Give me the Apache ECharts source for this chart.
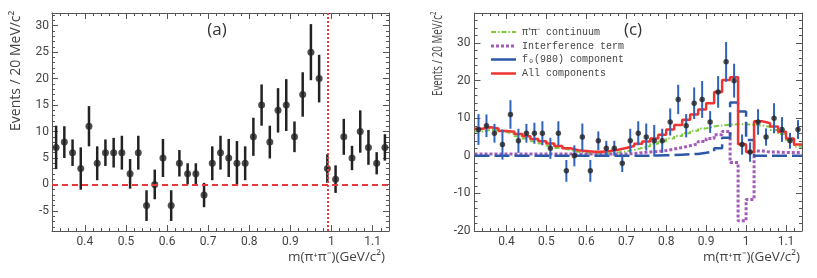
<!DOCTYPE html>
<html><head><meta charset="utf-8">
<script src="https://cdn.jsdelivr.net/npm/echarts@6/dist/echarts.min.js"></script>
<style>html,body{margin:0;padding:0;background:#fff}#c{width:817px;height:278px}</style>
</head><body><div id="c"></div>
<script>
// ---- data ----
const binCenters = [0.33,0.35,0.37,0.39,0.41,0.43,0.45,0.47,0.49,0.51,
  0.53,0.55,0.57,0.59,0.61,0.63,0.65,0.67,0.69,0.71,
  0.73,0.75,0.77,0.79,0.81,0.83,0.85,0.87,0.89,0.91,
  0.93,0.95,0.97,0.99,1.01,1.03,1.05,1.07,1.09,1.11,1.13];
const binEdges = [0.32,0.34,0.36,0.38,0.40,0.42,0.44,0.46,0.48,0.50,
  0.52,0.54,0.56,0.58,0.60,0.62,0.64,0.66,0.68,0.70,
  0.72,0.74,0.76,0.78,0.80,0.82,0.84,0.86,0.88,0.90,
  0.92,0.94,0.96,0.98,1.00,1.02,1.04,1.06,1.08,1.10,1.12,1.14];
const events = [7,8,6,3,11,4,6,6,6,2, 6,-4,0,5,-4,4,2,2,-2,4, 6,5,4,4,9,15,8,14,15,9, 17,25,20,3,1,9,5,10,7,4, 7];
const errors = [4.1,3.0,2.5,4.0,3.8,3.2,2.5,2.8,3.2,2.8, 3.2,2.9,2.8,3.6,2.9,2.5,2.0,2.0,2.3,3.2,
  3.2,3.6,4.2,3.2,3.6,3.9,3.1,4.2,4.9,2.9, 4.2,5.3,4.5,2.7,2.6,3.4,2.3,4.0,3.3,2.1, 2.5];
const continuum = [6.5,6.9,6.8,6.3,5.8,5.2,4.6,3.9,3.3,2.7, 2.1,1.6,1.1,0.8,0.6,0.6,0.7,0.9,1.2,1.6,
  2.1,2.6,3.2,3.9,4.6,5.3,6.0,6.7,7.3,7.8, 8.1,8.3,8.4,8.4,8.3,8.1,7.7,6.9,5.8,4.2, 2.4];
const interference = [0.5,0.5,0.5,0.5,0.5,0.5,0.5,0.5,0.5,0.5, 0.5,0.5,0.5,0.5,0.5,0.5,0.5,0.5,0.5,0.6,
  0.8,1.0,1.2,1.4,1.8,2.2,2.7,3.2,3.8,4.6, 5.6,6.5,-1.8,-17.3,-11.6,1.3,1.0,1.0,0.9,0.9, 0.9];
const f0Component = [0,0,0,0,0,0,0,0,0,0, 0,0,0,0,0,0,0,0,0,0,
  0,0.05,0.1,0.15,0.2,0.3,0.4,0.5,0.8,1.2, 2.0,4.8,14.2,11.8,4.2,0,0,0,0,0, 0];
const allComponents = [7.2,7.6,7.3,6.6,6.4,5.8,5.2,4.5,3.9,3.3, 2.6,2.0,1.5,1.3,1.1,1.1,1.3,1.6,2.1,2.6,
  3.2,3.8,4.6,5.6,7.0,8.2,9.6,11.0,12.3,14.0, 17.0,20.2,20.9,3.1,1.0,9.2,8.7,7.8,6.4,4.6, 3.0];
const xMajorTicks = [0.4,0.5,0.6,0.7,0.8,0.9,1.0,1.1];
const xMinorTicks = [0.32,0.34,0.36,0.38,0.40,0.42,0.44,0.46,0.48,0.50,0.52,0.54,0.56,0.58,0.60,0.62,0.64,0.66,0.68,0.70,
  0.72,0.74,0.76,0.78,0.80,0.82,0.84,0.86,0.88,0.90,0.92,0.94,0.96,0.98,1.00,1.02,1.04,1.06,1.08,1.10,1.12,1.14];
const yLeftMajor = [-5,0,5,10,15,20,25,30];
const yLeftMinor = [-8,-7,-6,-5,-4,-3,-2,-1,0,1,2,3,4,5,6,7,8,9,10,11,12,13,14,15,16,17,18,19,20,21,22,23,24,25,26,27,28,29,30,31,32];
const yRightMajor = [-20,-10,0,10,20,30];
const yRightMinor = [-20,-18,-16,-14,-12,-10,-8,-6,-4,-2,0,2,4,6,8,10,12,14,16,18,20,22,24,26,28,30,32,34,36,38];
const cutMass = 0.986;
const names = ['π⁺π⁻ continuum','Interference term','f₀(980) component','All components'];

// ---- styling ----
const AX = '#555', TXT = '#444';
const FONT = 'Roboto';
const COL = ['#7dcc3e', '#a45cb9', '#2d58a8', '#ee3333'];
const WID = [2, 3, 2.5, 2.5];
const DASH = [[5,2,1.5,2], [3,2], [15,5], 'solid'];

function xAxes(g, nameGap) {
  const base = {type:'value', gridIndex:g, min:0.32, max:1.14, splitLine:{show:false}};
  return [
    Object.assign({}, base, {position:'bottom',
      axisLine:{show:true,onZero:false,lineStyle:{color:AX,width:1}},
      axisTick:{show:true,inside:true,length:6,customValues:xMajorTicks,lineStyle:{color:AX}},
      axisLabel:{show:true,customValues:xMajorTicks,margin:5,color:TXT,fontSize:12,fontFamily:FONT},
      name:'m(π⁺π⁻)(GeV/c²)', nameLocation:'end', nameGap:nameGap,
      nameTextStyle:{align:'right',verticalAlign:'top',padding:[19,0,0,0],fontSize:13.5,fontFamily:'Open Sans',color:TXT}}),
    Object.assign({}, base, {position:'bottom',axisLine:{show:false,onZero:false},
      axisTick:{show:true,inside:true,length:3,customValues:xMinorTicks,lineStyle:{color:AX}},axisLabel:{show:false}}),
    Object.assign({}, base, {position:'top',axisLine:{show:true,onZero:false,lineStyle:{color:AX,width:1}},
      axisTick:{show:true,inside:true,length:6,customValues:xMajorTicks,lineStyle:{color:AX}},axisLabel:{show:false}}),
    Object.assign({}, base, {position:'top',axisLine:{show:false,onZero:false},
      axisTick:{show:true,inside:true,length:3,customValues:xMinorTicks,lineStyle:{color:AX}},axisLabel:{show:false}})
  ];
}
function yAxes(g, min, max, major, minor, margin) {
  const base = {type:'value', gridIndex:g, min:min, max:max, splitLine:{show:false}};
  return [
    Object.assign({}, base, {position:'left',
      axisLine:{show:true,onZero:false,lineStyle:{color:AX,width:1}},
      axisTick:{show:true,inside:true,length:6,customValues:major,lineStyle:{color:AX}},
      axisLabel:{show:true,customValues:major,margin:margin,color:TXT,fontSize:12,fontFamily:FONT}}),
    Object.assign({}, base, {position:'left',axisLine:{show:false,onZero:false},
      axisTick:{show:true,inside:true,length:3,customValues:minor,lineStyle:{color:AX}},axisLabel:{show:false}}),
    Object.assign({}, base, {position:'right',axisLine:{show:true,onZero:false,lineStyle:{color:AX,width:1}},
      axisTick:{show:true,inside:true,length:6,customValues:major,lineStyle:{color:AX}},axisLabel:{show:false}}),
    Object.assign({}, base, {position:'right',axisLine:{show:false,onZero:false},
      axisTick:{show:true,inside:true,length:3,customValues:minor,lineStyle:{color:AX}},axisLabel:{show:false}})
  ];
}
function errBars(xi, yi, color, width, z) {
  return {type:'custom', xAxisIndex:xi, yAxisIndex:yi, z:z, silent:true,
    data: binCenters.map((x,i)=>[x, events[i], errors[i]]),
    encode:{x:0,y:1},
    renderItem:(params, api)=>{
      const x = api.value(0), y = api.value(1), e = api.value(2);
      const a = api.coord([x, y - e]), b = api.coord([x, y + e]);
      return {type:'line', shape:{x1:a[0],y1:a[1],x2:b[0],y2:b[1]}, style:{stroke:color, lineWidth:width}};
    }};
}
function hist(k, vals, z) {
  return {type:'line', name:names[k], xAxisIndex:4, yAxisIndex:4, step:'end', symbol:'none', z:z, silent:true,
    data: binEdges.map((e,i)=>[e, vals[Math.min(i, vals.length-1)]]),
    lineStyle:{color:COL[k], width:WID[k], type:DASH[k]}, itemStyle:{color:COL[k]}};
}

// legend drawn as graphic (line samples + texts)
const legendRows = [32, 46, 59.5, 73.5];
const legendGraphics = [];
names.forEach((n, k) => {
  legendGraphics.push({type:'line', shape:{x1:491, y1:legendRows[k], x2:516, y2:legendRows[k]},
    style:{stroke:COL[k], lineWidth:WID[k], lineDash: k < 2 ? DASH[k] : null}});
  legendGraphics.push({type:'text', x:522, y:legendRows[k],
    style:{text:n, fontSize:10, fontFamily:'Liberation Mono', fill:TXT, align:'left', verticalAlign:'middle'}});
});

const chart = echarts.init(document.getElementById('c'), null, {renderer:'canvas'});
chart.setOption({
  animation:false,
  backgroundColor:'#fff',
  grid:[
    {left:52, top:13, width:337, height:218},
    {left:474.5, top:13, width:327.5, height:218}
  ],
  xAxis: xAxes(0, -4).concat(xAxes(1, -2)),
  yAxis: yAxes(0, -8.8, 32.4, yLeftMajor, yLeftMinor, 3).concat(yAxes(1, -20, 38, yRightMajor, yRightMinor, 4)),
  graphic:[
    {type:'text', x:217, y:30, style:{text:'(a)', fontSize:17, fontFamily:'Open Sans', fill:'#333', align:'center', verticalAlign:'middle'}},
    {type:'text', x:633, y:30, style:{text:'(c)', fontSize:17, fontFamily:'Open Sans', fill:'#333', align:'center', verticalAlign:'middle'}},
    {type:'text', x:16, y:131, rotation:Math.PI/2, style:{text:'Events / 20 MeV/c²', fontSize:14, fontFamily:'Open Sans', fill:TXT, align:'left', verticalAlign:'middle'}},
    {type:'text', x:438.5, y:96, rotation:Math.PI/2, scaleX:0.7, style:{text:'Events / 20 MeV/c²', fontSize:14, fontFamily:'Open Sans', fill:TXT, align:'left', verticalAlign:'middle'}}
  ].concat(legendGraphics),
  series:[
    errBars(0, 0, '#222', 2.5, 3),
    {type:'scatter', xAxisIndex:0, yAxisIndex:0, z:4, symbol:'circle', symbolSize:7, silent:true,
      itemStyle:{color:'#222'}, data: binCenters.map((x,i)=>[x, events[i]]),
      markLine:{silent:true, symbol:'none', label:{show:false}, animation:false,
        lineStyle:{color:'#e8383a', width:2},
        data:[{yAxis:0, lineStyle:{type:[6,4]}}, {xAxis:cutMass, lineStyle:{type:[2,2]}}]}},
    hist(0, continuum, 2),
    hist(1, interference, 2),
    hist(2, f0Component, 2),
    hist(3, allComponents, 3),
    errBars(4, 4, '#2f62b8', 2, 5),
    {type:'scatter', xAxisIndex:4, yAxisIndex:4, z:6, symbol:'circle', symbolSize:5.5, silent:true,
      itemStyle:{color:'#222'}, data: binCenters.map((x,i)=>[x, events[i]])}
  ]
});
</script></body></html>
